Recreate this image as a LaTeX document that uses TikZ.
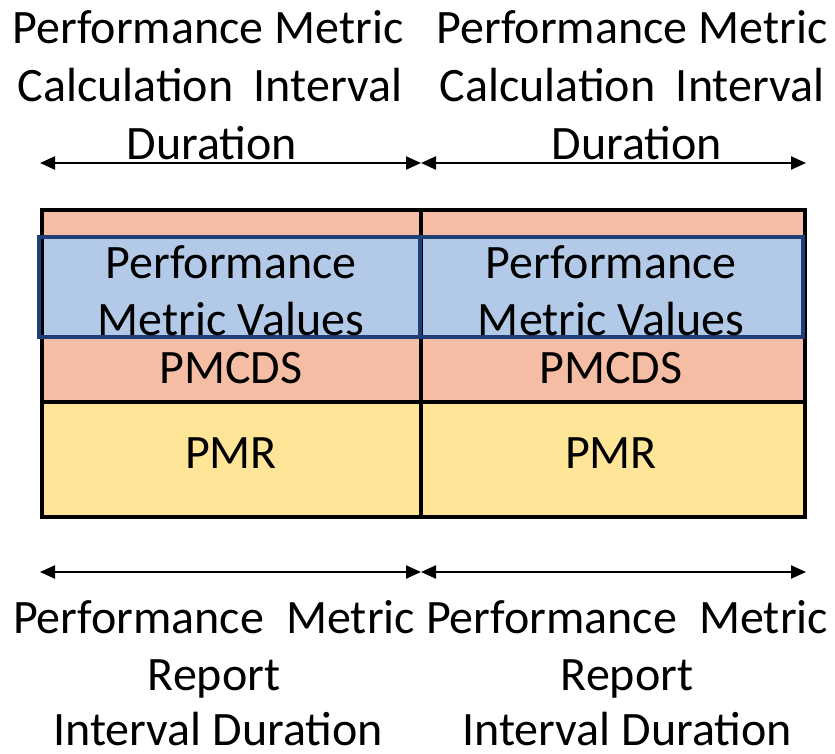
\documentclass[tikz,border=0pt]{standalone}
\usepackage{fontspec}
\setmainfont{Carlito}
\usetikzlibrary{arrows.meta}
\definecolor{salmon}{HTML}{F5BEA4}
\definecolor{bluefill}{HTML}{B2C9E8}
\definecolor{blueedge}{HTML}{203F78}
\definecolor{yellowfill}{HTML}{FFE597}
\tikzset{
  lbl/.style={font=\fontsize{48}{56}\selectfont, inner sep=0pt, anchor=base},
  dim/.style={line width=2.2pt, {Triangle[length=15pt,width=13pt]}-{Triangle[length=15pt,width=13pt]}},
  cellrule/.style={line width=4.5pt, draw=black},
  bluerule/.style={line width=4pt, draw=blueedge},
}
\newcommand{\jline}[3]{\hbox to #1pt{#2\hfill #3}}
\begin{document}
\begin{tikzpicture}[x=1pt,y=-1pt]
\useasboundingbox (0,0) rectangle (835,753);
% fills
\fill[yellowfill] (42,402) rectangle (805,517);
\fill[salmon] (42,210) rectangle (805,402);
\fill[bluefill] (39,237) rectangle (803,337);
% black cell rules
\draw[cellrule] (42,210) rectangle (805,517);
\draw[cellrule] (421,210) -- (421,517);
\draw[cellrule] (42,402) -- (805,402);
% blue box
\draw[bluerule] (39,237) rectangle (803,337);
\draw[bluerule] (420,237) -- (420,337);
% dimension arrows
\coordinate (tl) at (40,163);
\coordinate (tm) at (421,163);
\coordinate (tr) at (806,163);
\coordinate (bl) at (40,572);
\coordinate (bm) at (421,572);
\coordinate (br) at (806,572);
\draw[dim] (tl) -- (tm);
\draw[dim] (tm) -- (tr);
\draw[dim] (bl) -- (bm);
\draw[dim] (bm) -- (br);
% top labels
\node[lbl] (t1a) at (208,43) {Performance Metric};
\node[lbl] (t1b) at (210,101) {\jline{385}{Calculation}{Interval}};
\node[lbl] (t1c) at (212,159) {Duration};
\node[lbl] (t2a) at (632,43) {Performance Metric};
\node[lbl] (t2b) at (632,101) {\jline{385}{Calculation}{Interval}};
\node[lbl] (t2c) at (637,159) {Duration};
% cell labels
\node[lbl] (v1a) at (231,278) {Performance};
\node[lbl] (v1b) at (231,335) {Metric Values};
\node[lbl] (v2a) at (611,278) {Performance};
\node[lbl] (v2b) at (611,335) {Metric Values};
\node[lbl] (p1) at (231,383) {PMCDS};
\node[lbl] (p2) at (611,383) {PMCDS};
\node[lbl] (r1) at (231,468) {PMR};
\node[lbl] (r2) at (611,468) {PMR};
% bottom labels
\node[lbl] (b1a) at (214,633) {\jline{402}{Performance}{Metric}};
\node[lbl] (b1b) at (214,690) {Report};
\node[lbl] (b1c) at (218,745) {Interval Duration};
\node[lbl] (b2a) at (627,633) {\jline{402}{Performance}{Metric}};
\node[lbl] (b2b) at (627,690) {Report};
\node[lbl] (b2c) at (627,745) {Interval Duration};
\end{tikzpicture}
\end{document}
